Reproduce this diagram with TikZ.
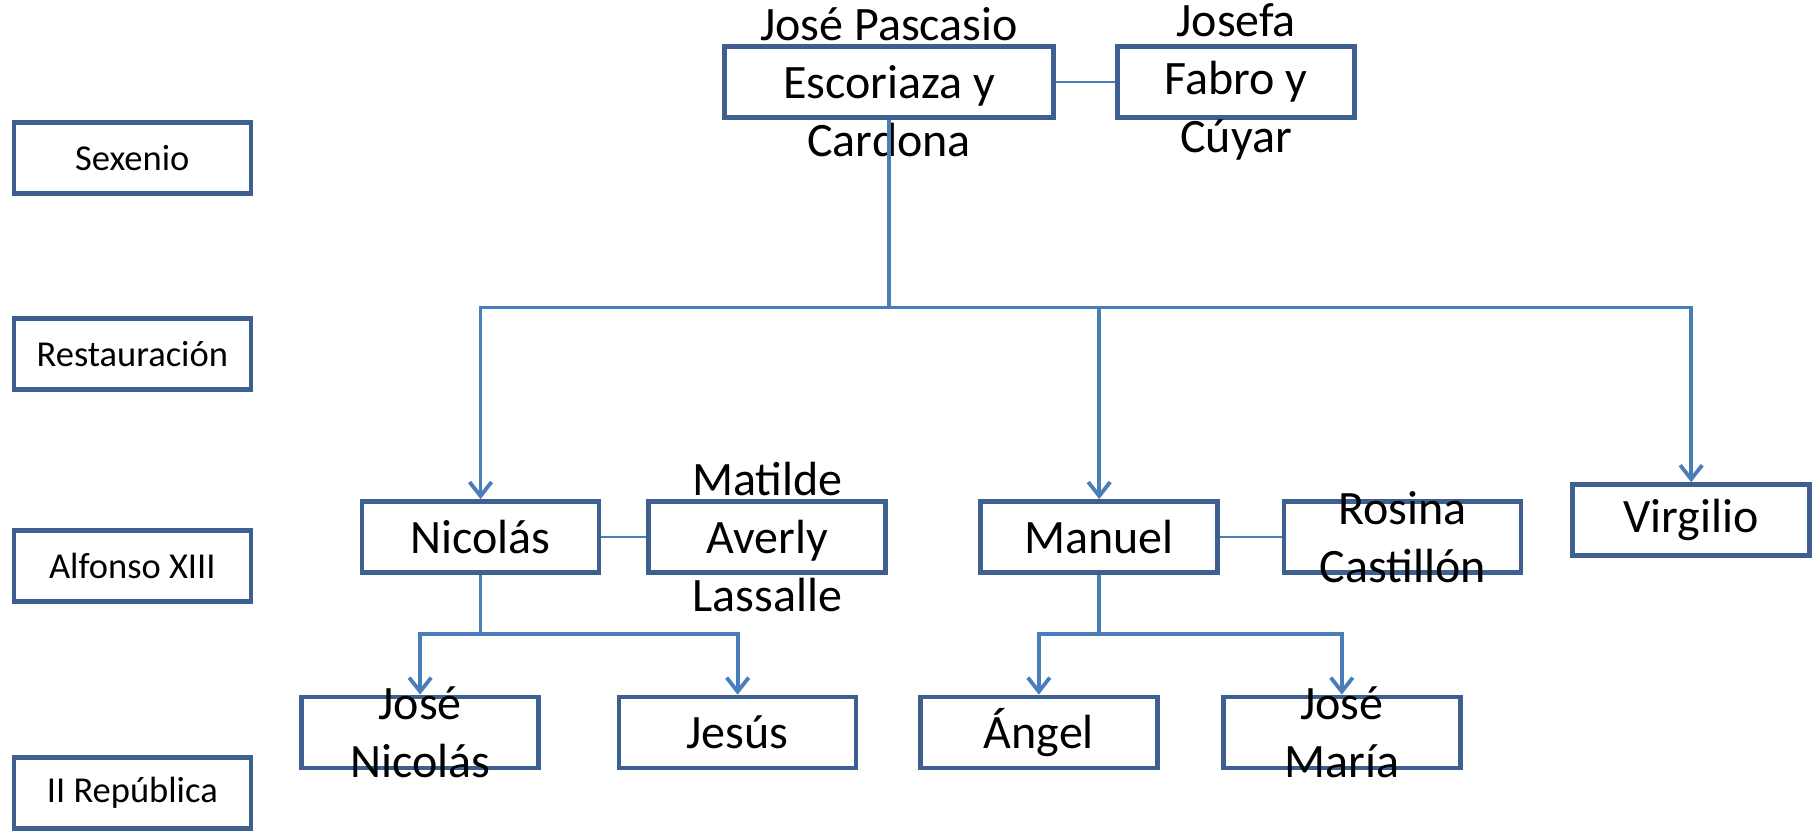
\documentclass[tikz,border=0pt]{standalone}
\usepackage{fontspec}
\setmainfont{Carlito}
\usetikzlibrary{arrows.meta}
\definecolor{boxblue}{HTML}{3D6090}
\definecolor{lineblue}{HTML}{4A7EBB}
\begin{document}
\begin{tikzpicture}[x=1.1607pt,y=-1.1607pt,
  pbox/.style={draw=boxblue, line width=4.5pt, minimum width=237pt, minimum height=71pt, inner sep=0pt},
  widebox/.style={pbox, minimum width=329pt},
  erabox/.style={pbox},
  bigtxt/.style={font=\fontsize{48}{58}\selectfont, align=center, inner sep=0pt},
  eratxt/.style={font=\fontsize{36.5}{42}\selectfont, inner sep=0pt},
  link/.style={draw=lineblue, line width=3.8pt},
  spouse/.style={draw=lineblue, line width=2.2pt},
  arr/.style={link, -{Straight Barb[length=14pt,width=22pt]}}
]
\useasboundingbox (0,0) rectangle (1568,717);
% era boxes
\node[erabox] (sex) at (114,136) {};
\node[erabox] (res) at (114,305) {};
\node[erabox] (alf) at (114,487.5) {};
\node[erabox] (rep) at (114,683) {};
\node[eratxt] (sext) at (sex.center) {Sexenio};
\node[eratxt] (rest) at (res.center) {Restauración};
\node[eratxt] (alft) at (alf.center) {Alfonso XIII};
\node[eratxt] (rept) at (rep.center) {II República};
% person boxes
\node[widebox] (esc) at (766,70.5) {};
\node[pbox] (jos) at (1065,70.5) {};
\node[pbox] (nic) at (414,462.5) {};
\node[pbox] (mat) at (661,462.5) {};
\node[pbox] (man) at (947,462.5) {};
\node[pbox] (ros) at (1208.5,462.5) {};
\node[pbox] (vir) at (1457,448) {};
\node[pbox] (jn) at (362,631) {};
\node[pbox] (jes) at (635.5,631) {};
\node[pbox] (ang) at (895,631) {};
\node[pbox] (jm) at (1156,631) {};
% texts
\node[bigtxt] (esct) at (esc.center) {José Pascasio\\Escoriaza y\\Cardona};
\node[bigtxt] (jost) at (jos.center) {Josefa\\Fabro y\\Cúyar};
\node[bigtxt] (nict) at (nic.center) {Nicolás};
\node[bigtxt] (matt) at (mat.center) {Matilde\\Averly\\Lassalle};
\node[bigtxt] (mant) at (man.center) {Manuel};
\node[bigtxt] (rost) at (ros.center) {Rosina\\Castillón};
\node[bigtxt] (virt) at (vir.center) {Virgilio};
\node[bigtxt] (jnt) at (jn.center) {José\\Nicolás};
\node[bigtxt] (jest) at (jes.center) {Jesús};
\node[bigtxt] (angt) at (ang.center) {Ángel};
\node[bigtxt] (jmt) at (jm.center) {José\\María};
% connectors
\draw[spouse] (esc.east) -- (jos.west);
\draw[spouse] (nic.east) -- (mat.west);
\draw[spouse] (man.east) -- (ros.west);
\coordinate (bar) at (766,265);
\coordinate (nbar) at (414,546);
\coordinate (mbar) at (947,546);
\draw[link] (esc.south) -- (bar);
\draw[arr] (bar) -| (nic.north);
\draw[arr] (bar) -| (man.north);
\draw[arr] (bar) -| (vir.north);
\draw[link] (nic.south) -- (nbar);
\draw[arr] (nbar) -| (jn.north);
\draw[arr] (nbar) -| (jes.north);
\draw[link] (man.south) -- (mbar);
\draw[arr] (mbar) -| (ang.north);
\draw[arr] (mbar) -| (jm.north);
\end{tikzpicture}
\end{document}
